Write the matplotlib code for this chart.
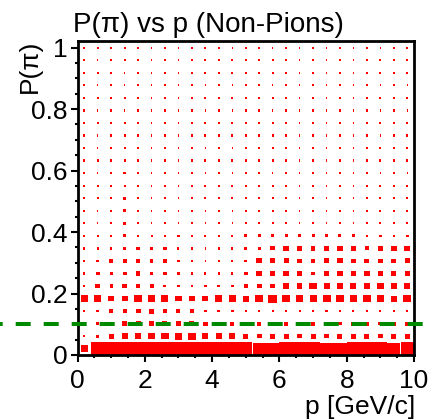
import numpy as np
import matplotlib
matplotlib.use("Agg")
import matplotlib.pyplot as plt
from matplotlib.patches import Rectangle
from matplotlib.collections import PatchCollection

plt.rcParams['font.family'] = ['Liberation Sans', 'DejaVu Sans']
plt.rcParams['lines.scale_dashes'] = False

# binning of the 2D histogram
p_edges = np.linspace(0, 10, 26)      # p [GeV/c]
ppi_edges = np.linspace(0, 1.02, 26)  # P(pi)
cut = 0.1

# bin contents, one list per P(pi) bin (bottom row first), 25 p bins each
counts = [
    [290, 1000, 1000, 1000, 1000, 1000, 1000, 1000, 1000, 1000, 1000, 1000, 1000, 945, 945, 1000, 1000, 1000, 945, 945, 1000, 1000, 1000, 945, 1000],
    [12, 50, 140, 196, 232, 268, 275, 290, 298, 200, 195, 202, 140, 135, 142, 138, 136, 140, 134, 141, 137, 139, 136, 142, 140],
    [12, 50, 88, 138, 138, 138, 138, 138, 138, 112, 112, 88, 88, 90, 86, 88, 84, 90, 88, 86, 88, 90, 85, 88, 92],
    [22, 50, 68, 88, 138, 155, 112, 88, 68, 50, 50, 50, 22, 22, 24, 22, 20, 22, 23, 22, 21, 22, 22, 23, 22],
    [270, 310, 199, 199, 310, 294, 270, 219, 219, 199, 270, 270, 233, 327, 399, 310, 270, 270, 353, 353, 270, 294, 270, 233, 353],
    [12, 112, 60, 102, 88, 88, 50, 34, 40, 34, 40, 40, 68, 155, 155, 219, 186, 286, 199, 219, 199, 199, 233, 199, 186],
    [22, 76, 57, 88, 122, 50, 57, 34, 40, 22, 22, 22, 97, 167, 167, 167, 138, 97, 122, 167, 167, 167, 167, 155, 167],
    [12, 40, 76, 88, 76, 76, 68, 34, 43, 12, 16, 18, 43, 167, 167, 149, 112, 88, 167, 167, 138, 127, 112, 127, 149],
    [12, 16, 16, 40, 57, 57, 57, 22, 22, 16, 16, 16, 40, 43, 112, 155, 155, 127, 186, 186, 167, 112, 138, 186, 186],
    [12, 22, 22, 60, 22, 22, 22, 27, 27, 18, 27, 22, 50, 50, 50, 50, 50, 50, 50, 50, 50, 40, 43, 37, 43],
    [8, 12, 12, 43, 12, 12, 12, 12, 12, 12, 12, 12, 16, 16, 16, 16, 16, 16, 16, 16, 16, 16, 16, 16, 22],
    [8, 12, 18, 60, 12, 12, 12, 12, 12, 12, 12, 12, 16, 16, 16, 16, 16, 16, 16, 16, 16, 16, 16, 16, 18],
    [18, 18, 18, 68, 20, 12, 18, 18, 18, 18, 18, 18, 18, 18, 18, 18, 18, 8, 18, 18, 18, 18, 18, 18, 18],
    [18, 18, 18, 18, 18, 18, 18, 18, 18, 18, 18, 18, 18, 18, 18, 18, 18, 18, 18, 18, 18, 18, 18, 18, 18],
    [8, 8, 24, 30, 16, 8, 8, 8, 8, 8, 8, 8, 8, 8, 8, 8, 8, 8, 8, 8, 8, 8, 8, 8, 8],
    [18, 18, 18, 18, 18, 18, 18, 18, 18, 18, 18, 18, 18, 18, 18, 18, 18, 18, 18, 18, 18, 18, 18, 18, 18],
    [8, 8, 18, 18, 18, 18, 18, 8, 8, 8, 18, 12, 18, 18, 18, 18, 18, 18, 18, 18, 18, 18, 18, 18, 18],
    [18, 8, 18, 18, 18, 18, 18, 18, 18, 18, 18, 18, 18, 18, 18, 18, 18, 18, 18, 8, 8, 8, 8, 18, 18],
    [18, 18, 18, 18, 18, 18, 18, 18, 18, 18, 18, 18, 18, 18, 18, 18, 18, 18, 18, 18, 18, 18, 18, 18, 18],
    [8, 8, 8, 8, 8, 8, 8, 8, 8, 8, 8, 8, 8, 8, 8, 8, 8, 8, 8, 8, 8, 8, 8, 8, 8],
    [18, 18, 18, 18, 18, 18, 18, 18, 18, 18, 18, 18, 18, 18, 18, 18, 18, 18, 18, 18, 18, 18, 18, 18, 18],
    [8, 8, 8, 8, 8, 8, 8, 8, 8, 8, 8, 8, 8, 8, 8, 8, 8, 8, 8, 8, 8, 8, 8, 8, 8],
    [18, 18, 10, 10, 18, 18, 18, 18, 18, 18, 18, 18, 18, 18, 18, 18, 18, 18, 18, 18, 18, 18, 18, 18, 18],
    [8, 8, 18, 18, 18, 8, 18, 18, 18, 18, 18, 18, 18, 18, 18, 18, 18, 18, 18, 18, 18, 18, 18, 22, 18],
    [8, 18, 18, 18, 18, 18, 18, 18, 18, 18, 18, 8, 8, 8, 8, 8, 8, 8, 8, 8, 8, 8, 8, 8, 18],
]

counts = np.array(counts, dtype=float)

fig = plt.figure(figsize=(4.29, 4.20), dpi=100)
ax = fig.add_axes([77.5 / 429, 1 - 355 / 420, 336.5 / 429, 313.6 / 420])

# box option: box area proportional to bin content, never smaller than a dot
dx = np.diff(p_edges)
dy = np.diff(ppi_edges)
pc = 0.5 * (p_edges[:-1] + p_edges[1:])
yc = 0.5 * (ppi_edges[:-1] + ppi_edges[1:])
frac = np.sqrt(counts / counts.max())
boxes = []
for j in range(len(yc)):
    for i in range(len(pc)):
        w = max(dx[i] * frac[j, i], 0.045)
        h = max(dy[j] * frac[j, i], 0.0075)
        boxes.append(Rectangle((pc[i] - w / 2, yc[j] - h / 2), w, h))
ax.add_collection(PatchCollection(boxes, facecolor='#ff0000', edgecolor='none'))

ax.axhline(cut, xmin=-0.2303, xmax=1.026, color='#008a00', lw=2.9,
           ls=(8.86, (10.8, 9.36)), dash_capstyle='butt', clip_on=False, zorder=5)

ax.set_xlim(0, 10)
ax.set_ylim(0, 1.02)
ax.set_xticks(np.arange(0, 11, 2))
ax.set_xticks(np.arange(0, 10.01, 0.5), minor=True)
ax.set_yticks([0, 0.2, 0.4, 0.6, 0.8, 1.0])
ax.set_yticklabels(['0', '0.2', '0.4', '0.6', '0.8', '1'])
ax.set_yticks(np.arange(0, 1.001, 0.05), minor=True)
ax.tick_params(which='both', direction='out', width=1.5, top=False, right=False)
ax.tick_params(which='major', length=5, labelsize=19)
ax.tick_params(which='minor', length=2.5)
ax.tick_params(axis='y', pad=2)
ax.tick_params(axis='x', pad=5)
for s in ax.spines.values():
    s.set_linewidth(2)

fig.text(72.7 / 429, 1 - 31.7 / 420, 'P(π) vs p (Non-Pions)', fontsize=20,
         ha='left', va='baseline')
fig.text(30 / 429, 1 - 40 / 420, 'P(π)', fontsize=19, rotation=90,
         ha='center', va='top')
fig.text(415 / 429, 6 / 420, 'p [GeV/c]', fontsize=19, ha='right', va='baseline')

fig.savefig('out.png', dpi=100)
